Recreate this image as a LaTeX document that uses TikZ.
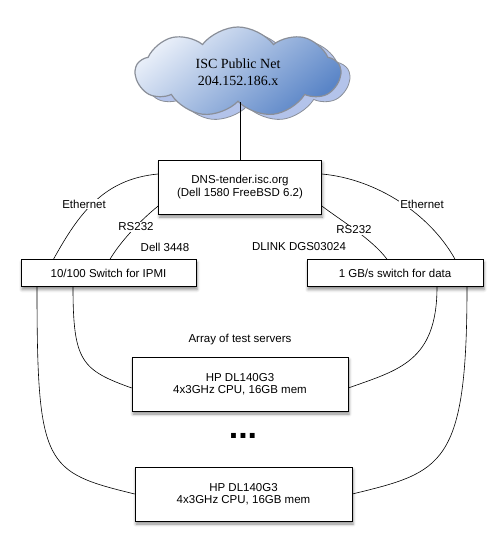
\documentclass[tikz,border=0pt]{standalone}
\usepackage{fontspec}
\setmainfont{Liberation Sans}
\newfontfamily\cloudfont{Liberation Serif}
\usetikzlibrary{shapes.symbols,shadows.blur,calc}
\definecolor{cloudlite}{HTML}{E9EFF9}
\definecolor{clouddeep}{HTML}{5A85C7}
\definecolor{cloudrear}{HTML}{B3C3EA}
\definecolor{cloudedge}{HTML}{8A8F99}

\begin{document}
\begin{tikzpicture}[
  x=1pt, y=-1pt,
  box/.style={draw, fill=white, line width=0.6pt, inner sep=0pt, align=center,
    font=\fontsize{11.5}{12.5}\selectfont,
    blur shadow={shadow xshift=1pt, shadow yshift=-3pt, shadow blur radius=3pt, shadow opacity=45}},
  puff/.style={cloud, cloud puffs=9, cloud puff arc=105, aspect=2.3,
    minimum width=205pt, minimum height=90pt, inner sep=0pt},
  lbl/.style={fill=white, inner sep=1pt, font=\fontsize{11.5}{12}\selectfont},
  wire/.style={line width=0.6pt}
]
\useasboundingbox (0,0) rectangle (503,545);

% Public net cloud
\node[puff, draw=cloudedge, line width=0.8pt, fill=cloudrear] (cloudb) at (247,77) {};
\node[puff, draw=cloudedge, line width=1.2pt, top color=cloudlite, bottom color=clouddeep,
  shading angle=40, align=center, font=\cloudfont\fontsize{14}{17}\selectfont] (cloud) at (238,72)
  {ISC Public Net\\204.152.186.x};

% Host and switches
\node[box, minimum width=163pt, minimum height=54pt] (dns) at (240,187)
  {DNS-tender.isc.org\\(Dell 1580 FreeBSD 6.2)};
\node[box, minimum width=175pt, minimum height=27pt] (lsw) at (108.5,273) {10/100 Switch for IPMI};
\node[box, minimum width=176pt, minimum height=27pt] (rsw) at (395,273) {1 GB/s switch for data};

\draw[wire] (dns.north) -- (dns.north |- cloud.south);

% Links host -> switches
\draw[wire] ([yshift=13pt]dns.west) .. controls +(-55,5) and +(25,-45) .. ([xshift=-55pt]lsw.north);
\draw[wire] ([yshift=-19pt]dns.west) .. controls +(-15,12) and +(12,-20) .. ([xshift=1.5pt]lsw.north);
\draw[wire] ([yshift=-19pt]dns.east) .. controls +(20,15) and +(-15,-20) .. ([xshift=-8pt]rsw.north);
\draw[wire] ([yshift=13pt]dns.east) .. controls +(55,5) and +(-25,-45) .. ([xshift=60pt]rsw.north);

\node[lbl] (eth1) at (84,204) {Ethernet};
\node[lbl] (eth2) at (422,204) {Ethernet};
\node[lbl] (rs1) at (136,227) {RS232};
\node[lbl] (rs2) at (354,230) {RS232};
\node[lbl] (dell) at (165,247) {Dell 3448};
\node[lbl] (dlink) at (299,247) {DLINK DGS03024};

% Test servers
\node[lbl] (arr) at (240,340) {Array of test servers};
\node[box, minimum width=216pt, minimum height=54pt] (s1) at (240,384) {HP DL140G3\\4x3GHz CPU, 16GB mem};
\node[font=\bfseries\fontsize{34}{34}\selectfont, inner sep=0pt] (dots) at (243,436) {...};
\node[box, minimum width=217pt, minimum height=54pt] (s2) at (243.5,494) {HP DL140G3\\4x3GHz CPU, 16GB mem};

\draw[wire] ([xshift=-35.5pt]lsw.south) .. controls +(0,75) and +(-50,-18) .. ([yshift=-4pt]s1.west);
\draw[wire] ([xshift=-71.5pt]lsw.south) .. controls +(0,180) and +(-90,-22) .. (s2.west);
\draw[wire] ([xshift=42pt]rsw.south) .. controls +(0,75) and +(50,-18) .. ([yshift=-4pt]s1.east);
\draw[wire] ([xshift=72pt]rsw.south) .. controls +(0,180) and +(90,-22) .. (s2.east);
\end{tikzpicture}
\end{document}
